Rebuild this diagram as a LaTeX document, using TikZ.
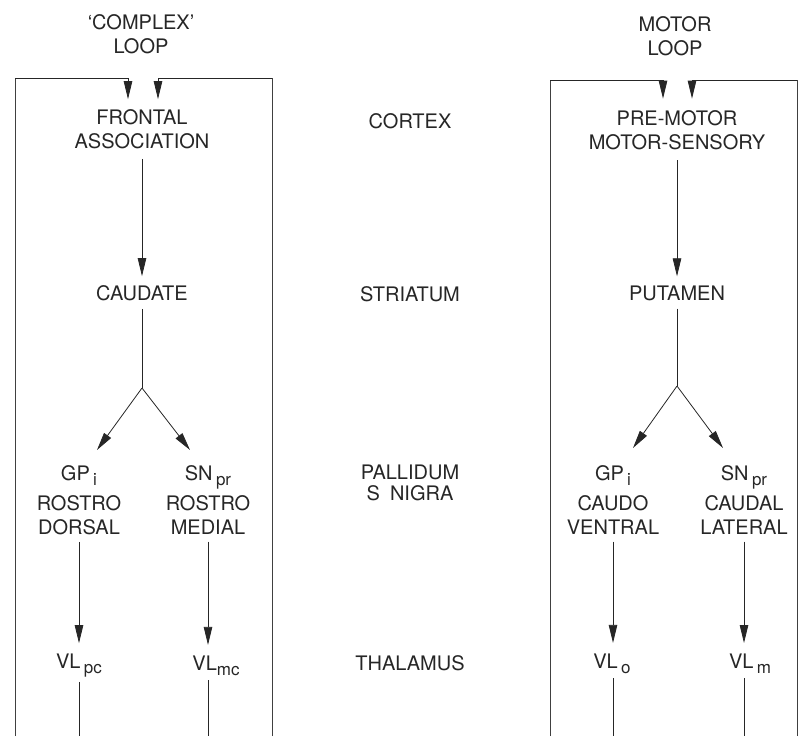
\documentclass[tikz,border=0pt]{standalone}
\usepackage{fontspec}
\setmainfont{TeX Gyre Heros}
\usetikzlibrary{arrows.meta}
\newcommand{\sbx}[1]{\raisebox{-5pt}{\fontsize{17}{17}\selectfont #1}}
\begin{document}
\begin{tikzpicture}[x=1pt,y=-1pt,
  lbl/.style={font=\fontsize{20}{24}\selectfont, text=black!85, align=center, inner sep=4pt},
  arr/.style={draw=black!85, line width=0.8pt, -{Triangle[length=18pt,width=8.5pt]}},
  ln/.style={draw=black!85, line width=0.8pt},
  boxln/.style={draw=black!75, line width=0.7pt}]
\useasboundingbox (0,0) rectangle (799,736);

% column headings
\node[lbl] (cl) at (141,34) {`COMPLEX'\\LOOP};
\node[lbl] (ml) at (675,36) {MOTOR\\LOOP};

% middle level labels
\node[lbl] (ctx) at (410,121) {CORTEX};
\node[lbl] (str) at (410,294) {STRIATUM};
\node[lbl, font=\fontsize{20}{21}\selectfont] (pal) at (410,482.5) {PALLIDUM\\S\hspace{10pt}NIGRA};
\node[lbl] (thal) at (410,663) {THALAMUS};

% left loop
\node[lbl] (fa) at (142,129) {FRONTAL\\ASSOCIATION};
\node[lbl] (cd) at (142,293) {CAUDATE};
\coordinate (bl) at (142,388);
\coordinate (glin) at (97,450);
\coordinate (slin) at (190,450);
\node[lbl] (gl) at (79,500) {GP\,\sbx{i}\\[6pt]ROSTRO\\DORSAL};
\node[lbl] (sl) at (208,500) {SN\,\sbx{pr}\\[6pt]ROSTRO\\MEDIAL};
\node[lbl] (vlpc) at (79,666) {VL\,\sbx{pc}};
\node[lbl] (vlmc) at (216,666) {VL\sbx{mc}};

% right loop
\node[lbl] (pm) at (677,130.5) {PRE-MOTOR\\MOTOR-SENSORY};
\node[lbl] (pu) at (677,293) {PUTAMEN};
\coordinate (br) at (677,386);
\coordinate (grin) at (633,448);
\coordinate (srin) at (723,448);
\node[lbl] (gr) at (613,500) {GP\,\sbx{i}\\[6pt]CAUDO\\VENTRAL};
\node[lbl] (sr) at (744,500) {SN\,\sbx{pr}\\[6pt]CAUDAL\\LATERAL};
\node[lbl] (vlo) at (612,664) {VL\,\sbx{o}};
\node[lbl] (vlm) at (750,664) {VL\,\sbx{m}};

% frame coordinates
\coordinate (bot) at (0,736);
\coordinate (lb1) at (15,736);  \coordinate (lc1) at (15,78);
\coordinate (lb2) at (272,736); \coordinate (lc2) at (272,78);
\coordinate (rb1) at (550,736); \coordinate (rc1) at (550,80);
\coordinate (rb2) at (797,736); \coordinate (rc2) at (797,80);

% feedback loops
\draw[boxln] (lb1) -- (lc1);
\draw[arr, shorten >=6pt] (lc1) -| ([xshift=-14pt]fa.north);
\draw[boxln] (lb2) -- (lc2);
\draw[arr, shorten >=6pt] (lc2) -| ([xshift=16pt]fa.north);
\draw[boxln] (rb1) -- (rc1);
\draw[arr, shorten >=8pt] (rc1) -| ([xshift=-14pt]pm.north);
\draw[boxln] (rb2) -- (rc2);
\draw[arr, shorten >=8pt] (rc2) -| ([xshift=15pt]pm.north);

% left chain
\draw[arr, shorten <=6pt, shorten >=5pt] (fa.south) -- (fa.south |- cd.north);
\draw[ln, shorten <=4pt] (cd.south) -- (bl);
\draw[arr] (bl) -- (glin);
\draw[arr] (bl) -- (slin);
\draw[arr, shorten <=3pt, shorten >=7pt] (gl.south) -- (gl.south |- vlpc.north);
\draw[arr, shorten <=3pt, shorten >=7pt] (sl.south) -- (sl.south |- vlmc.north);
\draw[ln] (gl.south |- vlpc.south) -- (gl.south |- bot);
\draw[ln] (sl.south |- vlmc.south) -- (sl.south |- bot);

% right chain
\draw[arr, shorten <=6pt, shorten >=5pt] (pm.south) -- (pm.south |- pu.north);
\draw[ln, shorten <=4pt] (pu.south) -- (br);
\draw[arr] (br) -- (grin);
\draw[arr] (br) -- (srin);
\draw[arr, shorten <=3pt, shorten >=7pt] (gr.south) -- (gr.south |- vlo.north);
\draw[arr, shorten <=3pt, shorten >=7pt] (sr.south) -- (sr.south |- vlm.north);
\draw[ln] (gr.south |- vlo.south) -- (gr.south |- bot);
\draw[ln] (sr.south |- vlm.south) -- (sr.south |- bot);
\end{tikzpicture}
\end{document}
